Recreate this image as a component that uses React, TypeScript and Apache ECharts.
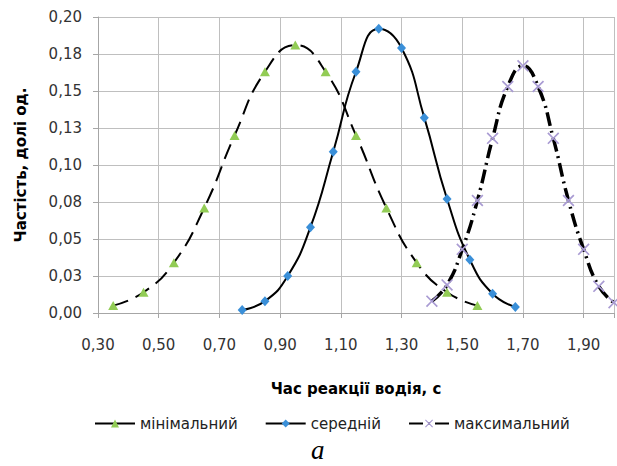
import React, { useEffect, useRef } from "react";
import * as echarts from "echarts";

// ---- data ----
const seriesNames = ["мінімальний", "середній", "максимальний"];

const minX = [0.35, 0.45, 0.55, 0.65, 0.75, 0.85, 0.95, 1.05, 1.15, 1.25, 1.35, 1.45, 1.55];
const minY = [0.005, 0.014, 0.034, 0.071, 0.12, 0.163, 0.181, 0.163, 0.12, 0.071, 0.034, 0.014, 0.005];

const avgX = [0.775, 0.85, 0.925, 1.0, 1.075, 1.15, 1.225, 1.3, 1.375, 1.45, 1.525, 1.6, 1.675];
const avgY = [0.002, 0.008, 0.025, 0.058, 0.109, 0.163, 0.192, 0.179, 0.132, 0.077, 0.036, 0.013, 0.004];

const maxX = [1.4, 1.45, 1.5, 1.55, 1.6, 1.65, 1.7, 1.75, 1.8, 1.85, 1.9, 1.95, 2.0];
const maxY = [0.008, 0.019, 0.043, 0.076, 0.118, 0.153, 0.167, 0.153, 0.118, 0.076, 0.043, 0.018, 0.007];

// axis ranges / tick steps
const X_START = 0.3;
const X_END = 2.0;
const X_STEP = 0.2;
const Y_MIN = 0;
const Y_MAX = 0.2;
const Y_STEP = 0.025;

const xTitle = "Час реакції водія, с";
const yTitle = "Частість, долі од.";
const caption = "а";

const FONT = "DejaVu Sans";

const fmt2 = (v: number) =>
  (Math.round(v * 100 + 1e-6) / 100).toFixed(2).replace(".", ",");

const toPts = (xs: number[], ys: number[]) =>
  xs.map((x, i) => [Math.round((x - X_START) * 10000) / 10000, ys[i]]);

const crossPath =
  "path://M0,1 L1,0 L5,4 L9,0 L10,1 L6,5 L10,9 L9,10 L5,6 L1,10 L0,9 L4,5 Z";

export default function App() {
  const ref = useRef<HTMLDivElement | null>(null);

  useEffect(() => {
    if (!ref.current) return;
    const chart = echarts.init(ref.current, null, { renderer: "svg" });
    const gridColor = "#BFBFBF";
    const option: any = {
      animation: false,
      backgroundColor: "#ffffff",
      textStyle: { fontFamily: FONT },
      grid: { left: 98, top: 17, width: 518, height: 296 },
      xAxis: {
        type: "value",
        min: 0,
        max: Math.round((X_END - X_START) * 1000) / 1000,
        interval: X_STEP,
        name: xTitle,
        nameLocation: "middle",
        nameGap: 68,
        nameTextStyle: { fontFamily: FONT, fontSize: 15, fontWeight: "bold", color: "#000" },
        axisLine: { show: true, lineStyle: { color: "#A6A6A6", width: 1 } },
        axisTick: { show: true, inside: false, length: 5, lineStyle: { color: "#A6A6A6" } },
        splitLine: { show: true, lineStyle: { color: gridColor, width: 1 } },
        axisLabel: {
          margin: 24,
          fontFamily: FONT,
          fontSize: 15,
          color: "#333",
          showMaxLabel: true,
          formatter: (v: number) => (v > X_END - X_START - 0.05 ? "" : fmt2(v + X_START)),
        },
      },
      yAxis: {
        type: "value",
        min: Y_MIN,
        max: Y_MAX,
        interval: Y_STEP,
        name: yTitle,
        nameLocation: "middle",
        nameRotate: 90,
        nameGap: 70,
        nameTextStyle: { fontFamily: FONT, fontSize: 15, fontWeight: "bold", color: "#000" },
        axisLine: { show: true, lineStyle: { color: "#A6A6A6", width: 1 } },
        axisTick: { show: true, inside: false, length: 5, lineStyle: { color: "#A6A6A6" } },
        splitLine: { show: true, lineStyle: { color: gridColor, width: 1 } },
        axisLabel: {
          margin: 16,
          fontFamily: FONT,
          fontSize: 15,
          color: "#333",
          formatter: (v: number) => fmt2(v),
        },
      },
      legend: {
        left: 89,
        top: 411,
        itemWidth: 40,
        itemHeight: 10,
        itemGap: 27,
        textStyle: { fontFamily: FONT, fontSize: 15, color: "#222" },
        data: [
          { name: seriesNames[0], lineStyle: { type: "solid" } },
          { name: seriesNames[1] },
          { name: seriesNames[2] },
        ],
      },
      graphic: [
        {
          type: "text",
          left: 311,
          top: 436,
          style: {
            text: caption,
            font: "italic 27px 'Liberation Serif', serif",
            fill: "#000",
          },
        },
      ],
      series: [
        {
          name: seriesNames[0],
          type: "line",
          smooth: 0.5,
          data: toPts(minX, minY),
          symbol: "triangle",
          symbolSize: [10, 9],
          itemStyle: { color: "#92CC55" },
          lineStyle: { color: "#000", width: 2, type: [16, 8] },
          z: 3,
        },
        {
          name: seriesNames[1],
          type: "line",
          smooth: 0.5,
          data: toPts(avgX, avgY),
          symbol: "diamond",
          symbolSize: [9, 10],
          itemStyle: { color: "#3A8FD8" },
          lineStyle: { color: "#000", width: 2, type: "solid" },
          z: 4,
        },
        {
          name: seriesNames[2],
          type: "line",
          smooth: 0.5,
          data: toPts(maxX, maxY),
          symbol: crossPath,
          symbolSize: 12,
          itemStyle: { color: "#A99BD3" },
          lineStyle: { color: "#000", width: 3.5, type: [14, 5, 2, 5] },
          z: 5,
        },
      ],
    };
    chart.setOption(option);
    return () => chart.dispose();
  }, []);

  return (
    <div
      ref={ref}
      style={{ position: "absolute", left: 0, top: 0, width: 617, height: 466 }}
    />
  );
}
